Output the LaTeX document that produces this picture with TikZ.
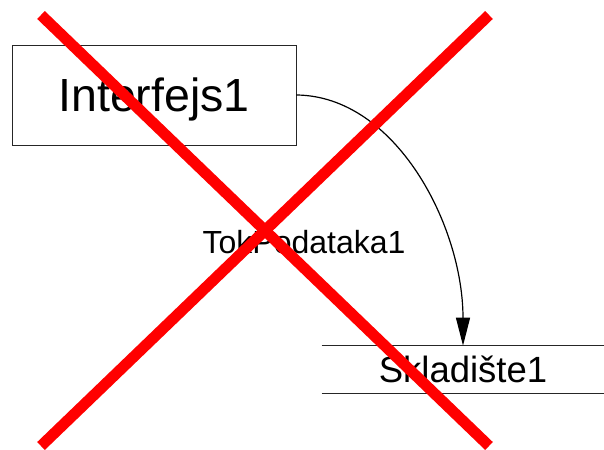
\documentclass[tikz,border=0pt]{standalone}
\usepackage{fontspec}
\setmainfont{Liberation Sans}
\usetikzlibrary{arrows.meta}

\begin{document}
\begin{tikzpicture}[
                            x=1pt,
                            y=1pt,
                            semithick
                        ]

                        \tikzstyle{entity}=[draw=black!85,line width=0.9pt,minimum width=284pt,minimum height=100pt,
                                            font=\fontsize{46.5}{50}\selectfont,text height=33pt,text depth=0pt]
                        \tikzstyle{store}=[minimum width=282pt,minimum height=47pt,font=\fontsize{36.5}{40}\selectfont]
                        \tikzstyle{flow}=[-{Triangle[length=28pt,width=14pt]},line width=1.2pt,black]
                        \tikzstyle{cross}=[red,line width=11pt,line cap=butt]

                        \useasboundingbox (0,0) rectangle (604,449);

                        \node[entity] (I) at (154,354) {Interfejs1} ;
                        \node[store]  (S) at (463,79.5) {Skladište1} ;
                        \node[font=\fontsize{32}{36}\selectfont,anchor=base] (T) at (304,195) {TokPodataka1} ;

                        \draw[line width=0.9pt,black!85] (S.north west) -- (S.north east)
                                             (S.south west) -- (S.south east) ;

                        \draw[flow] (I.east) .. controls (396,353) and (463,223) .. (S.north) ;

                        \coordinate (x1) at (41,434) ;
                        \coordinate (x2) at (489,3) ;
                        \coordinate (x3) at (489,434) ;
                        \coordinate (x4) at (41,3) ;
                        \draw[cross] (x1) -- (x2) ;
                        \draw[cross] (x3) -- (x4) ;
                    \end{tikzpicture}
\end{document}
